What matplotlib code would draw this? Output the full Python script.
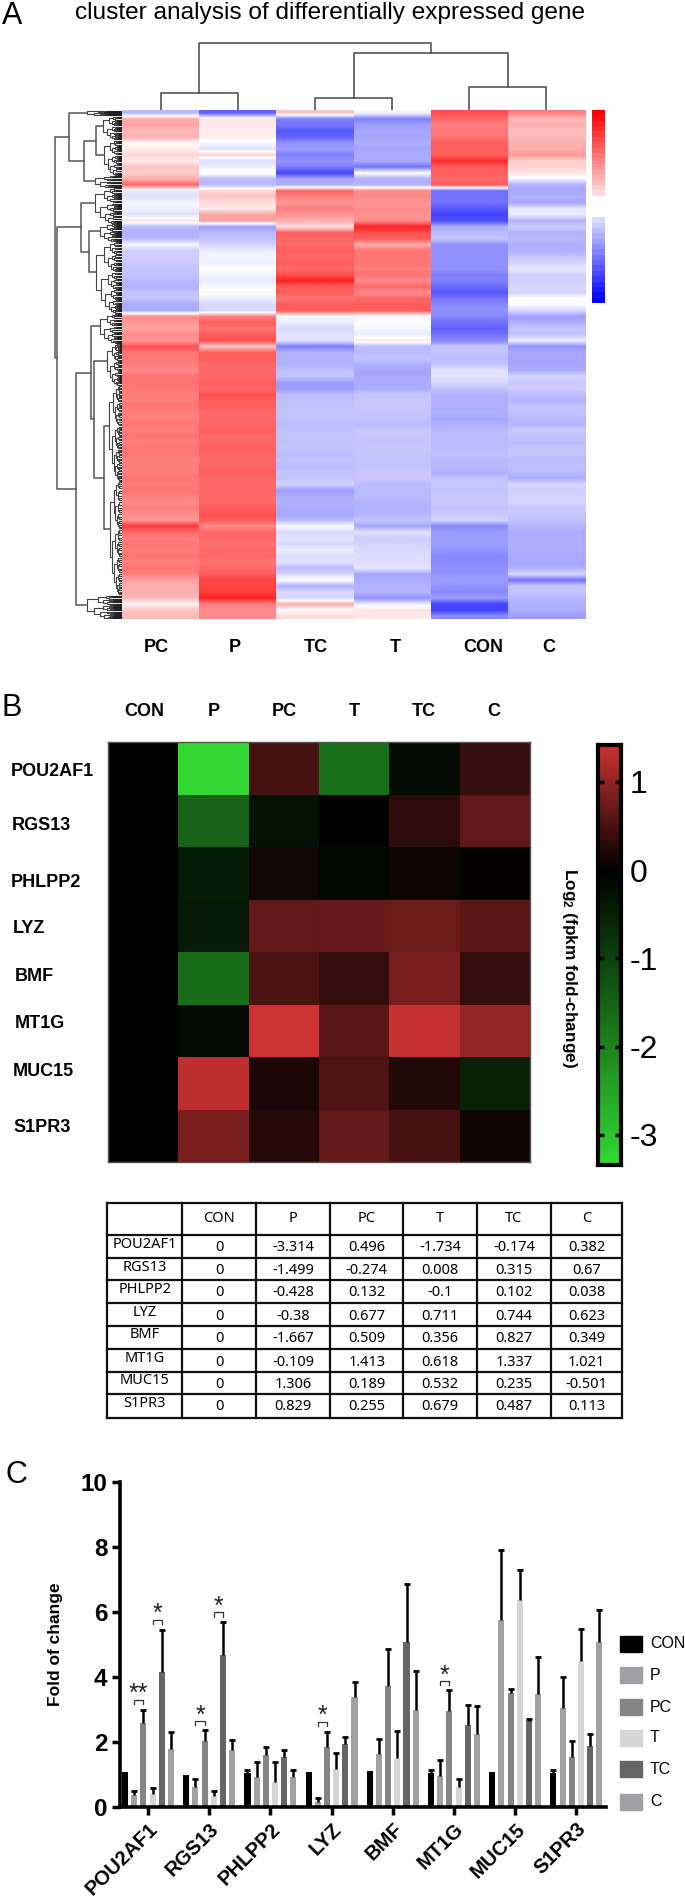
import numpy as np
import matplotlib
matplotlib.use('Agg')
import matplotlib.pyplot as plt
from matplotlib.colors import LinearSegmentedColormap, TwoSlopeNorm
from matplotlib.patches import Rectangle

plt.rcParams['font.family'] = ['Liberation Sans', 'DejaVu Sans']
plt.rcParams['mathtext.fontset'] = 'custom'
plt.rcParams['mathtext.bf'] = 'Liberation Sans:bold'
plt.rcParams['mathtext.rm'] = 'Liberation Sans:bold'

W, H = 685, 1896

# panel A, one value per row, -1 blue to 1 red
heat_cols = ['PC', 'P', 'TC', 'T', 'CON', 'C']
col_pc = [-.35, .35, .4, .3, .35, .02, .08, .18, .1, .25, .22, .35, .65, -.12, -.15, -.05, -.08, -.15, .12, -.35,
          -.4, -.35, -.05, -.25, -.25, -.28, -.3, -.3, -.35, -.4, -.3, -.3, -.42, -.42, .5, .45, .4, .5, .45, .75,
          .6, .6, .55, .5, .6, .6, .6, .55, .55, .6, .55, .55, .6, .55, .6, .55, .6, .6, .55, .55,
          .55, .6, .55, .6, .55, .5, .55, .5, .45, .85, .65, .55, .6, .55, .6, .55, .6, .55, .4, .35,
          .35, .3, .05, .25, .3]
col_p = [-.8, .12, .1, .08, .08, -.05, -.15, .2, -.18, -.08, .05, -.35, -.35, .2, .25, .15, .1, .4, .4, -.5,
         -.35, -.3, -.22, -.1, -.05, -.08, 0, -.05, -.12, -.03, .03, -.1, -.2, -.2, .55, .7, .6, .7, .75, .25,
         .7, .7, .65, .65, .65, .7, .65, .75, .7, .7, .65, .65, .65, .7, .65, .65, .7, .65, .65, .65,
         .7, .65, .65, .65, .65, .65, .7, .75, .7, .5, .65, .65, .6, .65, .65, .6, .65, .7, .8, .8,
         .85, .95, .55, .5, .5]
col_tc = [.25, -.65, -.7, -.85, -.8, -.55, -.5, -.65, -.55, -.65, -.95, -.45, -.4, .65, .55, .45, .55, .45, .35, .15,
          .7, .65, .65, .7, .65, .7, .65, .75, .95, .7, .7, .6, .7, .7, -.03, -.1, -.2, -.15, -.15, -.65,
          -.4, -.38, -.4, -.32, -.3, -.5, -.5, -.35, -.32, -.32, -.3, -.3, -.35, -.32, -.3, -.32, -.3, -.35, -.3, -.35,
          -.3, -.3, -.22, -.5, -.42, -.4, -.42, -.45, -.35, -.02, -.2, -.15, -.2, -.1, -.18, -.15, -.35, -.2, 0, -.4,
          -.2, -.2, .35, .02, .15]
col_t = [-.05, -.65, -.5, -.45, -.45, -.42, -.45, -.42, -.42, -.7, 0, -.4, -.38, .5, .5, .45, .5, .45, .5, .95,
         .75, .7, .35, .6, .6, .6, .55, .6, .5, .65, .5, .65, .7, .7, -.05, 0, -.05, -.1, .1, -.35,
         -.35, -.3, -.4, -.45, -.45, -.42, -.42, -.3, -.28, -.28, -.3, -.3, -.35, -.28, -.28, -.3, -.28, -.3, -.3, -.3,
         -.28, -.28, -.35, -.35, -.35, -.38, -.4, -.38, -.3, -.45, -.15, -.25, -.22, -.2, -.18, -.18, -.12, -.45, -.42, -.4,
         -.38, -.55, -.1, .12, .1]
col_con = [.75, .65, .55, .6, .6, .7, .7, .7, .9, .7, .7, .65, .7, -.72, -.72, -.72, -.85, -.95, -.9, -.4,
           -.35, -.3, -.55, -.55, -.55, -.55, -.55, -.65, -.65, -.75, -.85, -.7, -.6, -.55, -.62, -.72, -.8, -.72, -.6, -.3,
           -.3, -.35, -.3, -.15, -.15, -.2, -.3, -.4, -.4, -.4, -.4, -.45, -.4, -.35, -.35, -.35, -.35, -.32, -.35, -.35,
           -.4, -.3, -.28, -.3, -.28, -.28, -.3, -.28, -.22, -.6, -.5, -.5, -.5, -.55, -.6, -.6, -.55, -.55, -.5, -.55,
           -.6, -.5, -.95, -.95, -.6]
col_c = [.55, .3, .35, .28, .3, .35, .35, .45, .2, .2, .12, -.05, -.4, -.45, -.4, -.45, -.1, -.12, -.4, -.25,
         -.4, -.35, -.4, -.4, -.3, -.22, -.12, -.22, -.25, -.2, -.22, 0, -.02, -.2, -.5, -.4, -.3, -.3, -.1, -.55,
         -.45, -.45, -.45, -.42, -.22, -.28, -.25, -.32, -.38, -.3, -.32, -.35, -.38, -.28, -.3, -.35, -.28, -.3, -.35, -.32,
         -.35, -.42, -.2, -.25, -.22, -.22, -.28, -.28, -.32, -.38, -.42, -.42, -.4, -.42, -.42, -.45, -.4, -.2, -.7, -.3,
         -.3, -.35, -.4, -.42, -.5]

# dendrograms: (height, child, child), panel A rows end in (height, first row, last row)
col_tree = (67.3, (17.3, 0, 1), (56.7, (12, 2, 3), (23.3, 4, 5)))
row_tree = (67,
            (53, (35, 0, 1), (38, (26, (19, 1, 5), (18, 5, 11)), (27, 11, 13))),
            (65,
             (41, (27, 13, 19), (33, (22, 19, 22), (26, 22, 34))),
             (46,
              (31, (22, 34, 39), (28, (15, 39, 46), (18, (13, 46, 62), (12, 62, 81)))),
              (35, 81, 85))))

# panel B and table
genes = ['POU2AF1', 'RGS13', 'PHLPP2', 'LYZ', 'BMF', 'MT1G', 'MUC15', 'S1PR3']
groups = ['CON', 'P', 'PC', 'T', 'TC', 'C']
fc_text = [['0', '-3.314', '0.496', '-1.734', '-0.174', '0.382'],
           ['0', '-1.499', '-0.274', '0.008', '0.315', '0.67'],
           ['0', '-0.428', '0.132', '-0.1', '0.102', '0.038'],
           ['0', '-0.38', '0.677', '0.711', '0.744', '0.623'],
           ['0', '-1.667', '0.509', '0.356', '0.827', '0.349'],
           ['0', '-0.109', '1.413', '0.618', '1.337', '1.021'],
           ['0', '1.306', '0.189', '0.532', '0.235', '-0.501'],
           ['0', '0.829', '0.255', '0.679', '0.487', '0.113']]

# panel C
con_mean = [1.08, .98, 1.05, 1.08, 1.1, 1.05, 1.08, 1.05]
p_mean = [.36, .62, .93, .15, 1.64, .94, 5.74, 3.06]
pc_mean = [2.6, 2.03, 1.6, 1.85, 3.72, 2.94, 3.5, 1.54]
t_mean = [.4, .33, .77, 1.18, 1.52, .62, 6.36, 4.49]
tc_mean = [4.15, 4.67, 1.53, 1.93, 5.08, 2.53, 2.64, 1.88]
c_mean = [1.8, 1.75, .93, 3.4, 2.97, 2.26, 3.47, 5.08]
con_err = [0, 0, .1, 0, 0, .08, 0, .08]
p_err = [.14, .25, .47, .14, .44, .5, 2.18, .94]
pc_err = [.4, .35, .25, .45, 1.15, .65, .12, .48]
t_err = [.2, .15, .61, .48, .82, .23, .92, 1.0]
tc_err = [1.3, 1.03, .21, .22, 1.79, .6, .07, .38]
c_err = [.5, .32, .2, .45, 1.21, .84, 1.15, .99]
bar_colors = ['#000000', '#a0a0a5', '#858585', '#d6d6d6', '#666666', '#a0a0a5']
# gene index, first bar, second bar, bracket top, label
brackets = [(0, 1, 2, 3.3, '**'), (0, 3, 4, 5.76, '*'), (1, 1, 2, 2.65, '*'), (1, 3, 4, 6.0, '*'),
            (3, 1, 2, 2.62, '*'), (5, 1, 2, 3.88, '*')]


def px_axes(l, t, r, b):
    return fig.add_axes([l / W, 1 - b / H, (r - l) / W, (b - t) / H])


def draw_col_tree(ax, node):
    if not isinstance(node, tuple):
        return node + .5, 0
    x1, h1 = draw_col_tree(ax, node[1])
    x2, h2 = draw_col_tree(ax, node[2])
    ax.plot([x1, x1, x2, x2], [h1, node[0], node[0], h2], color='#555555', lw=1.2)
    return (x1 + x2) / 2, node[0]


def draw_fine(ax, d, r0, r1):
    # small branches next to the heatmap
    if r1 - r0 < .3 or d < 2.5:
        ax.plot([d, 0], [(r0 + r1) / 2] * 2, color='#222222', lw=.8)
        return (r0 + r1) / 2
    cut = r0 + (r1 - r0) * .42
    y1 = draw_fine(ax, d * .68, r0, cut)
    y2 = draw_fine(ax, d * .8, cut, r1)
    ax.plot([d * .68, d, d, d * .8], [y1, y1, y2, y2], color='#444444', lw=.8)
    return (y1 + y2) / 2


def draw_row_tree(ax, node):
    if not isinstance(node[1], tuple):
        return node[0], draw_fine(ax, node[0], node[1], node[2])
    d1, y1 = draw_row_tree(ax, node[1])
    d2, y2 = draw_row_tree(ax, node[2])
    ax.plot([d1, node[0], node[0], d2], [y1, y1, y2, y2], color='#555555', lw=1.1)
    return node[0], (y1 + y2) / 2


fig = plt.figure(figsize=(W / 100, H / 100), dpi=100)

# page axes for free text, table and legend, in pixels
page = fig.add_axes([0, 0, 1, 1])
page.set_xlim(0, W)
page.set_ylim(H, 0)
page.axis('off')

page.text(2, 16, 'A', fontsize=22, va='center')
page.text(2, 708, 'B', fontsize=22, va='center')
page.text(6, 1475, 'C', fontsize=22, va='center')
page.text(330, 13, 'cluster analysis of differentially expressed gene', fontsize=17.6, ha='center', va='center')

# panel A
bwr = LinearSegmentedColormap.from_list('bwr2', ['#0000ff', '#ffffff', '#ff0000'])
bwr_norm = TwoSlopeNorm(vmin=-1.3, vcenter=0, vmax=1.1)
heat_a = px_axes(122, 110, 585, 619)
for i, col in enumerate([col_pc, col_p, col_tc, col_t, col_con, col_c]):
    heat_a.imshow(np.array(col).reshape(-1, 1), extent=(i, i + 1, len(col), 0), aspect='auto',
                  cmap=bwr, norm=bwr_norm, interpolation='bilinear')
heat_a.set_xlim(0, 6)
heat_a.set_ylim(len(col_pc), 0)
heat_a.axis('off')

top_tree = px_axes(122, 40, 585, 110)
draw_col_tree(top_tree, col_tree)
top_tree.set_xlim(0, 6)
top_tree.set_ylim(0, 70)
top_tree.axis('off')

left_tree = px_axes(40, 110, 122, 619)
draw_row_tree(left_tree, row_tree)
left_tree.set_xlim(82, 0)
left_tree.set_ylim(85, 0)
left_tree.axis('off')

key_a = px_axes(592, 110, 605, 303)
key_vals = np.linspace(1, -1, 36)
key_vals = np.where(np.abs(key_vals) < .1, 0, key_vals)
key_a.imshow(key_vals.reshape(-1, 1), aspect='auto', cmap=bwr, vmin=-1, vmax=1, interpolation='nearest')
key_a.axis('off')

for name, x in zip(heat_cols, [156, 235, 316, 395, 483, 549]):
    page.text(x, 648, name, fontsize=13, fontweight='bold', ha='center', va='center')

# panel B
fc_vals = np.array(fc_text, dtype=float)
rg = LinearSegmentedColormap.from_list('rg', ['#32d732', '#000000', '#cd3232'])
rg_norm = TwoSlopeNorm(vmin=-3.314, vcenter=0, vmax=1.413)
heat_b = px_axes(108, 742, 530, 1162)
heat_b.pcolormesh(fc_vals, cmap=rg, norm=rg_norm)
heat_b.set_ylim(len(genes), 0)
heat_b.set_xticks([])
heat_b.set_yticks([])
for s in heat_b.spines.values():
    s.set_color('#555555')
    s.set_linewidth(1)

for name, x in zip(groups, [144, 214, 284, 354, 424, 494]):
    page.text(x, 712, name, fontsize=13, fontweight='bold', ha='center', va='center')
gene_pos = [(11, 771), (12, 826), (11, 882), (13, 928), (15, 976), (15, 1024), (13, 1072), (13, 1128)]
for name, (x, y) in zip(genes, gene_pos):
    page.text(x, y, name, fontsize=13, fontweight='bold', va='center')

key_b = px_axes(598, 745, 621, 1165)
grad = np.linspace(-3.34, 1.416, 200).reshape(-1, 1)
key_b.imshow(grad, extent=(0, 1, -3.34, 1.416), origin='lower', aspect='auto', cmap=rg, norm=rg_norm)
key_b.set_xticks([])
key_b.set_yticks([-3, -2, -1, 0, 1])
key_b.set_yticklabels(['-3', '-2', '-1', '0', '1'], fontsize=23)
key_b.yaxis.tick_right()
key_b.tick_params(axis='y', left=True, right=True, direction='in', length=4, width=2.5, pad=6, color='black')
for s in key_b.spines.values():
    s.set_linewidth(3)
page.text(570, 968, r'Log$\mathbf{_2}$ (fpkm fold-change)', fontsize=12.4, fontweight='bold', rotation=-90,
          ha='center', va='center')

# table
tx = [107.5, 182.5, 256, 330, 403.5, 477, 551, 622]
ty = [1203, 1234.5, 1258, 1280, 1303, 1325.5, 1349, 1371.5, 1394, 1418]
for x in tx:
    page.plot([x, x], [ty[0], ty[-1]], color='#111111', lw=1.6)
for y in ty:
    page.plot([tx[0], tx[-1]], [y, y], color='#111111', lw=1.6)
for j, name in enumerate(groups):
    page.text((tx[j + 1] + tx[j + 2]) / 2, (ty[0] + ty[1]) / 2, name, fontsize=10.5, family='Noto Sans',
              ha='center', va='center')
for i, name in enumerate(genes):
    page.text((tx[0] + tx[1]) / 2, ty[i + 1] + 9.5, name, fontsize=10.5, family='Noto Sans', ha='center', va='center')
    for j, val in enumerate(fc_text[i]):
        page.text((tx[j + 1] + tx[j + 2]) / 2, ty[i + 1] + 13, val, fontsize=10.5, family='Noto Sans',
                  ha='center', va='center')

# panel C
means = [con_mean, p_mean, pc_mean, t_mean, tc_mean, c_mean]
errs = [con_err, p_err, pc_err, t_err, tc_err, c_err]
ax = px_axes(120, 1482, 606, 1807)
xs = np.arange(len(genes))
step = .15
offsets = (np.arange(6) - 2.5) * step
for i in range(6):
    bar_x = xs + offsets[i]
    m = np.array(means[i])
    e = np.array(errs[i])
    ax.bar(bar_x, m, width=.1, color=bar_colors[i], zorder=2)
    ax.vlines(bar_x[e > 0], m[e > 0], (m + e)[e > 0], color='black', lw=1.8, zorder=3)
    ax.plot(bar_x[e > 0], (m + e)[e > 0], '_', color='black', ms=4.5, mew=2, zorder=3)
for g, a, b, top, label in brackets:
    x1, x2 = g + offsets[a], g + offsets[b]
    ax.plot([x1, x1, x2, x2], [top - .14, top, top, top - .14], color='#333333', lw=.9, zorder=4)
    ax.text((x1 + x2) / 2, top - .2, label, fontsize=18, ha='center', va='bottom', color='#222222')
ax.set_xlim(-.4575, 7.484)
ax.set_ylim(0, 10)
ax.set_yticks([0, 2, 4, 6, 8, 10])
ax.set_yticklabels(['0', '2', '4', '6', '8', '10'], fontsize=17.5, fontweight='bold')
ax.set_xticks(xs)
ax.set_xticklabels(genes, fontsize=14.6, fontweight='bold', rotation=45, ha='right', rotation_mode='anchor')
ax.tick_params(axis='both', length=6, width=2.5, pad=3)
ax.patch.set_alpha(0)
for side in ['top', 'right']:
    ax.spines[side].set_visible(False)
for side in ['left', 'bottom']:
    ax.spines[side].set_linewidth(2.6)
ax.set_ylabel('Fold of change', fontsize=12.5, fontweight='bold', labelpad=13)

for name, color, y in zip(groups, bar_colors, [1644, 1675, 1707, 1738, 1769, 1802]):
    page.add_patch(Rectangle((620, y - 8), 22, 16, color=color))
    page.text(650, y, name, fontsize=11.5, va='center')

fig.savefig('out.png', dpi=100)
